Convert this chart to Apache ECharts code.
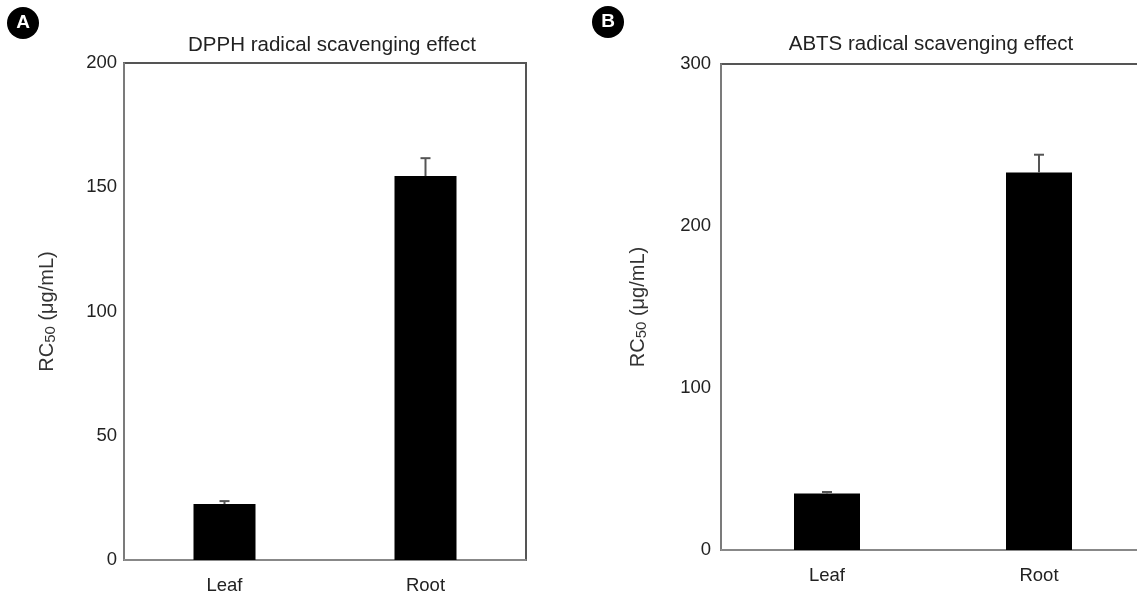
<!DOCTYPE html>
<html>
<head>
<meta charset="utf-8">
<script src="https://cdn.jsdelivr.net/npm/echarts@6/dist/echarts.min.js"></script>
<style>
  html, body { margin: 0; padding: 0; background: #fff; overflow: hidden; }
  #main { width: 1150px; height: 595px; }
</style>
</head>
<body>
<div id="main"></div>
<script>
// data
var categories = ['Leaf', 'Root'];
var dpphMean = [22.5, 154.5];
var dpphErr = [1.2, 7.2];
var abtsMean = [34.8, 233];
var abtsErr = [1.0, 11];

var fontFam = '"Liberation Sans", Arial, sans-serif';

function errData(mean, err) {
  return mean.map(function (m, i) { return [i, m, err[i]]; });
}

function renderErr(params, api) {
  var i = api.value(0);
  var m = api.value(1);
  var e = api.value(2);
  var top = api.coord([i, m + e]);
  var base = api.coord([i, m]);
  var cap = 5;
  return {
    type: 'group',
    children: [
      { type: 'line', shape: { x1: top[0], y1: top[1], x2: base[0], y2: base[1] },
        style: { stroke: '#555', lineWidth: 2 } },
      { type: 'line', shape: { x1: top[0] - cap, y1: top[1], x2: top[0] + cap, y2: top[1] },
        style: { stroke: '#555', lineWidth: 2 } }
    ]
  };
}

var yName = {
  rich: {
    a: { fontSize: 20, color: '#333', fontFamily: fontFam },
    s: { fontSize: 15, color: '#333', fontFamily: fontFam, padding: [7, 0, 0, 0] }
  }
};

function yAxisFor(idx, max, interval, margin) {
  return {
    gridIndex: idx,
    type: 'value',
    min: 0,
    max: max,
    interval: interval,
    name: '{a|RC}{s|50}{a| (μg/mL)}',
    nameLocation: 'middle',
    nameGap: idx === 0 ? 66 : 72,
    nameRotate: 90,
    nameTextStyle: yName,
    axisLine: { show: true, lineStyle: { color: '#888', width: 1.5 } },
    axisTick: { show: false },
    splitLine: { show: false },
    axisLabel: { fontSize: 18.5, color: '#222', fontFamily: fontFam, margin: margin }
  };
}

function xAxisFor(idx) {
  return {
    gridIndex: idx,
    type: 'category',
    data: categories,
    axisLine: { show: true, lineStyle: { color: '#999', width: 1.5 } },
    axisTick: { show: false },
    axisLabel: { fontSize: 18.5, color: '#222', fontFamily: fontFam, margin: 16 }
  };
}

var chart = echarts.init(document.getElementById('main'));
chart.setOption({
  animation: false,
  backgroundColor: '#fff',
  title: [
    { text: 'DPPH radical scavenging effect', left: 327, top: 30, textAlign: 'center',
      textStyle: { fontSize: 20.5, fontWeight: 'normal', color: '#222', fontFamily: fontFam } },
    { text: 'ABTS radical scavenging effect', left: 926, top: 29, textAlign: 'center',
      textStyle: { fontSize: 20.5, fontWeight: 'normal', color: '#222', fontFamily: fontFam } }
  ],
  grid: [
    { left: 124, top: 63, width: 402, height: 497, show: true, borderColor: '#555', borderWidth: 2, backgroundColor: 'transparent' },
    { left: 721, top: 64, width: 424, height: 486, show: true, borderColor: '#555', borderWidth: 2, backgroundColor: 'transparent' }
  ],
  xAxis: [xAxisFor(0), xAxisFor(1)],
  yAxis: [yAxisFor(0, 200, 50, 7), yAxisFor(1, 300, 100, 10)],
  graphic: [
    { type: 'circle', shape: { cx: 23, cy: 23, r: 16 }, style: { fill: '#000' } },
    { type: 'text', x: 23, y: 23, style: { text: 'A', fill: '#fff', fontSize: 19, fontWeight: 'bold', fontFamily: fontFam, align: 'center', verticalAlign: 'middle' } },
    { type: 'circle', shape: { cx: 608, cy: 22, r: 16 }, style: { fill: '#000' } },
    { type: 'text', x: 608, y: 22, style: { text: 'B', fill: '#fff', fontSize: 19, fontWeight: 'bold', fontFamily: fontFam, align: 'center', verticalAlign: 'middle' } }
  ],
  series: [
    { type: 'bar', xAxisIndex: 0, yAxisIndex: 0, data: dpphMean, barWidth: 62,
      itemStyle: { color: '#000' } },
    { type: 'custom', xAxisIndex: 0, yAxisIndex: 0, data: errData(dpphMean, dpphErr),
      renderItem: renderErr, z: 3 },
    { type: 'bar', xAxisIndex: 1, yAxisIndex: 1, data: abtsMean, barWidth: 66,
      itemStyle: { color: '#000' } },
    { type: 'custom', xAxisIndex: 1, yAxisIndex: 1, data: errData(abtsMean, abtsErr),
      renderItem: renderErr, z: 3 }
  ]
});
</script>
</body>
</html>
